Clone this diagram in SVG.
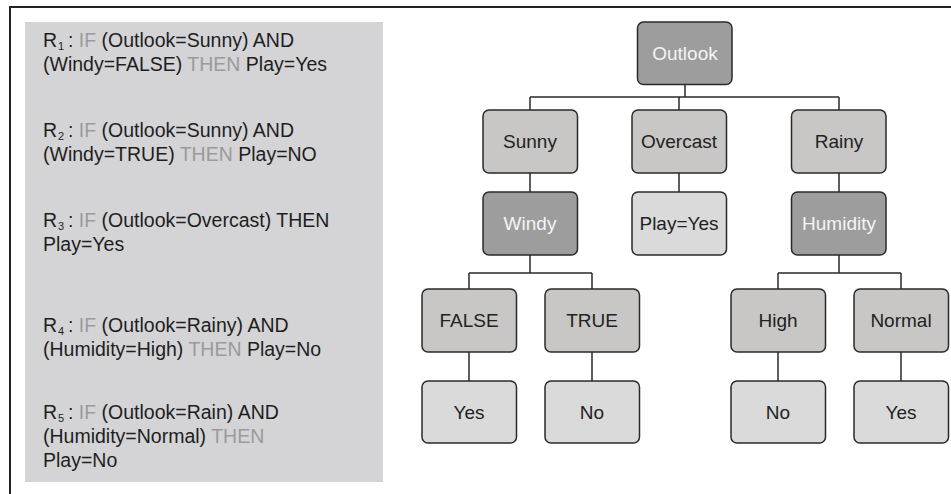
<svg xmlns="http://www.w3.org/2000/svg" width="951" height="494" viewBox="0 0 951 494">
  <style>
    .frame { fill: none; stroke: #222; stroke-width: 2; }
    .panel { fill: #d4d4d6; }
    .rule { font-family: "Liberation Sans", Arial, sans-serif; font-size: 19.5px; fill: #1e1e1e; }
    .kw { fill: #9a9a9a; }
    .sub { font-family: "Liberation Sans", Arial, sans-serif; font-size: 11px; fill: #1e1e1e; }
    .box { stroke: #2a2a2a; stroke-width: 1.5; }
    .dark { fill: #9d9d9d; }
    .mid { fill: #c8c7c5; }
    .light { fill: #dadada; }
    .label { font-family: "Liberation Sans", Arial, sans-serif; font-size: 19px; text-anchor: middle; fill: #222; }
    .label.inv { fill: #f4f4f4; }
    .edge { fill: none; stroke: #2a2a2a; stroke-width: 1.5; }
  </style>

  <!-- outer frame: top and left rules only -->
  <path class="frame" d="M10 494 V7 H951"/>

  <!-- rule list; the rule index is set as a separate subscript text -->
  <g id="rules">
    <rect class="panel" x="25" y="22" width="358" height="460"/>
    <text class="rule" x="43" y="47">R</text>
    <text class="sub" x="58" y="50">1</text>
    <text class="rule" x="68" y="47">: <tspan class="kw">IF</tspan> (Outlook=Sunny) AND</text>
    <text class="rule" x="43" y="71">(Windy=FALSE) <tspan class="kw">THEN</tspan> Play=Yes</text>

    <text class="rule" x="43" y="137">R</text>
    <text class="sub" x="58" y="140">2</text>
    <text class="rule" x="68" y="137">: <tspan class="kw">IF</tspan> (Outlook=Sunny) AND</text>
    <text class="rule" x="43" y="161">(Windy=TRUE) <tspan class="kw">THEN</tspan> Play=NO</text>

    <text class="rule" x="43" y="227">R</text>
    <text class="sub" x="58" y="230">3</text>
    <text class="rule" x="68" y="227">: <tspan class="kw">IF</tspan> (Outlook=Overcast) THEN</text>
    <text class="rule" x="43" y="251">Play=Yes</text>

    <text class="rule" x="43" y="332">R</text>
    <text class="sub" x="58" y="335">4</text>
    <text class="rule" x="68" y="332">: <tspan class="kw">IF</tspan> (Outlook=Rainy) AND</text>
    <text class="rule" x="43" y="356">(Humidity=High) <tspan class="kw">THEN</tspan> Play=No</text>

    <text class="rule" x="43" y="419">R</text>
    <text class="sub" x="58" y="422">5</text>
    <text class="rule" x="68" y="419">: <tspan class="kw">IF</tspan> (Outlook=Rain) AND</text>
    <text class="rule" x="43" y="443">(Humidity=Normal) <tspan class="kw">THEN</tspan></text>
    <text class="rule" x="43" y="467">Play=No</text>
  </g>

  <!-- tree connectors -->
  <g id="connectors">
    <path class="edge" d="M685 84 V97 M530 97 H839 M530 97 V110 M679 97 V110 M839 97 V110"/>
    <path class="edge" d="M530 173 V192 M679 173 V192 M839 173 V192"/>
    <path class="edge" d="M530 255 V273 M469 273 H592 M469 273 V289 M592 273 V289"/>
    <path class="edge" d="M839 255 V273 M778 273 H901 M778 273 V289 M901 273 V289"/>
    <path class="edge" d="M469 352 V381 M592 352 V381 M778 352 V381 M901 352 V381"/>
  </g>

  <!-- tree nodes -->
  <g id="outlook">
    <rect class="box dark" x="637.5" y="22" width="94.5" height="62.5" rx="6"/>
    <text class="label inv" x="685" y="60">Outlook</text>
  </g>
  <g id="sunny">
    <rect class="box mid" x="483" y="110" width="94.5" height="63" rx="6"/>
    <text class="label" x="530" y="148">Sunny</text>
  </g>
  <g id="overcast">
    <rect class="box mid" x="632" y="110" width="94.5" height="63" rx="6"/>
    <text class="label" x="679" y="148">Overcast</text>
  </g>
  <g id="rainy">
    <rect class="box mid" x="791.5" y="110" width="94.5" height="63" rx="6"/>
    <text class="label" x="839" y="148">Rainy</text>
  </g>
  <g id="windy">
    <rect class="box dark" x="483" y="192" width="94.5" height="63" rx="6"/>
    <text class="label inv" x="530" y="230">Windy</text>
  </g>
  <g id="play-yes">
    <rect class="box light" x="632" y="192" width="94.5" height="63" rx="6"/>
    <text class="label" x="679" y="230">Play=Yes</text>
  </g>
  <g id="humidity">
    <rect class="box dark" x="791.5" y="192" width="94.5" height="63" rx="6"/>
    <text class="label inv" x="839" y="230">Humidity</text>
  </g>
  <g id="windy-false">
    <rect class="box mid" x="422" y="289" width="94.5" height="63" rx="6"/>
    <text class="label" x="469" y="327">FALSE</text>
  </g>
  <g id="windy-true">
    <rect class="box mid" x="545" y="289" width="94.5" height="63" rx="6"/>
    <text class="label" x="592" y="327">TRUE</text>
  </g>
  <g id="humidity-high">
    <rect class="box mid" x="731" y="289" width="94.5" height="63" rx="6"/>
    <text class="label" x="778" y="327">High</text>
  </g>
  <g id="humidity-normal">
    <rect class="box mid" x="854" y="289" width="94.5" height="63" rx="6"/>
    <text class="label" x="901" y="327">Normal</text>
  </g>
  <g id="leaf-false-yes">
    <rect class="box light" x="422" y="381" width="94.5" height="62" rx="6"/>
    <text class="label" x="469" y="419">Yes</text>
  </g>
  <g id="leaf-true-no">
    <rect class="box light" x="545" y="381" width="94.5" height="62" rx="6"/>
    <text class="label" x="592" y="419">No</text>
  </g>
  <g id="leaf-high-no">
    <rect class="box light" x="731" y="381" width="94.5" height="62" rx="6"/>
    <text class="label" x="778" y="419">No</text>
  </g>
  <g id="leaf-normal-yes">
    <rect class="box light" x="854" y="381" width="94.5" height="62" rx="6"/>
    <text class="label" x="901" y="419">Yes</text>
  </g>
</svg>
